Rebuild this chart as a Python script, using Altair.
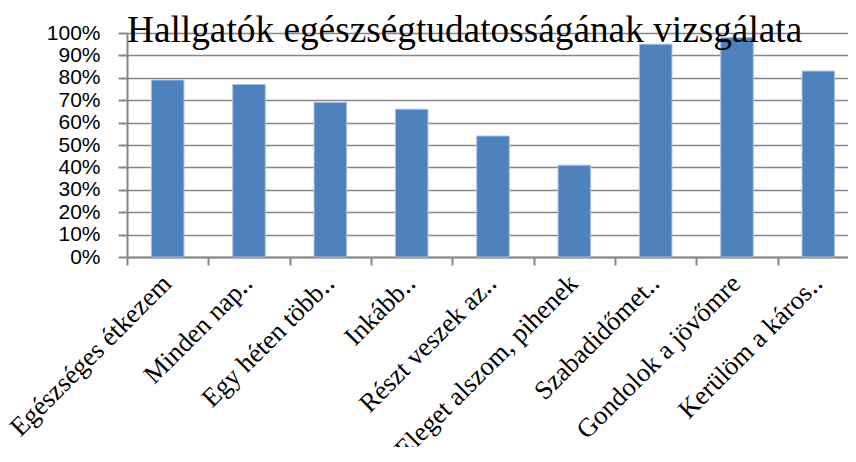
import altair as alt
import pandas as pd

categories = [
    "Egészséges étkezem",
    "Minden nap‥",
    "Egy héten több‥",
    "Inkább‥",
    "Részt veszek az‥",
    "Eleget alszom, pihenek",
    "Szabadidőmet‥",
    "Gondolok a jövőmre",
    "Kerülöm a káros‥",
]
values = [0.79, 0.77, 0.69, 0.66, 0.54, 0.41, 0.95, 0.98, 0.83]
y_ticks = [0, 0.1, 0.2, 0.3, 0.4, 0.5, 0.6, 0.7, 0.8, 0.9, 1.0]
title_text = "Hallgatók egészségtudatosságának vizsgálata"

df = pd.DataFrame({"cat": categories, "val": values})

GRAY = "#868686"

chart = (
    alt.Chart(df)
    .mark_bar(width=alt.RelativeBandSize(0.4), color="#4F81BD", stroke="#A9C0DE", strokeWidth=1)
    .encode(
        x=alt.X(
            "cat:N",
            sort=categories,
            title=None,
            scale=alt.Scale(paddingInner=0, paddingOuter=0, range=[0, 732]),
            axis=alt.Axis(
                labelAngle=-45,
                labelAlign="right",
                labelBaseline="middle",
                labelFont="Liberation Serif",
                labelFontSize=26.5,
                labelColor="black",
                labelPadding=14,
                labelOffset=-1,
                labelLimit=0,
                labelOverlap=False,
                tickBand="extent",
                tickSize=8,
                tickColor=GRAY,
                tickWidth=2,
                domainColor=GRAY,
                domainWidth=2,
                grid=False,
            ),
        ),
        y=alt.Y(
            "val:Q",
            title=None,
            scale=alt.Scale(domain=[0, 1], nice=False),
            axis=alt.Axis(
                format=".0%",
                values=y_ticks,
                labelFont="Liberation Sans",
                labelFontSize=21,
                labelColor="black",
                labelPadding=18,
                labelOverlap=False,
                tickSize=9,
                tickColor=GRAY,
                tickWidth=2,
                domainColor=GRAY,
                domainWidth=2,
                grid=True,
                gridColor=GRAY,
                gridWidth=1.5,
            ),
        ),
    )
    .properties(
        width=721,
        height=224,
        title=alt.TitleParams(
            title_text,
            anchor="start",
            frame="group",
            font="Liberation Serif",
            fontSize=37.3,
            fontWeight="normal",
            color="black",
            baseline="alphabetic",
            offset=-57,
        ),
        autosize=alt.AutoSizeParams(type="none"),
        padding={"left": 119, "top": 25, "right": 0, "bottom": 190},
    )
    .configure_view(stroke=None)
)

chart.save("out.html", embed_options={"renderer": "svg", "actions": False})
